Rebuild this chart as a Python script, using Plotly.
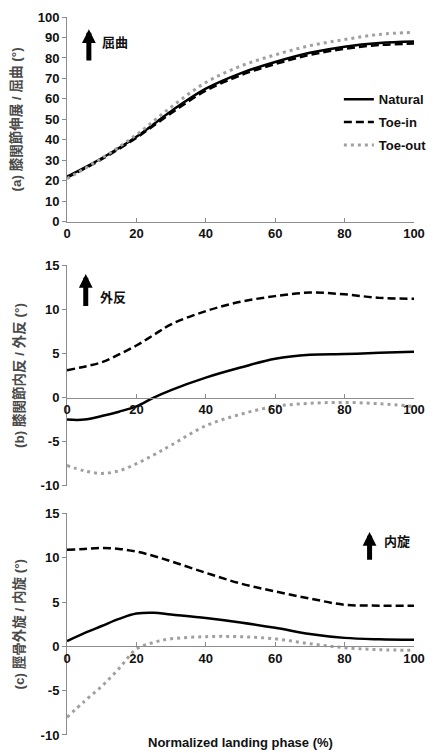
import plotly.graph_objects as go

# ---------------- data ----------------
phase_a = [0, 10, 20, 30, 40, 50, 60, 70, 80, 90, 100]
natural_a = [22, 31, 41.5, 54, 65, 72.5, 78, 82.5, 85.5, 87.3, 88]
toein_a = [21.5, 30.5, 41, 53, 64, 71.5, 77, 81.5, 84.5, 86.3, 87]
toeout_a = [21, 31, 42.5, 56, 68, 76, 81.5, 86, 89, 91.5, 92.5]

phase_bc = [0, 5, 10, 15, 20, 25, 30, 40, 50, 60, 70, 80, 90, 100]
natural_b = [-2.5, -2.5, -2.1, -1.6, -1.0, 0.0, 0.85, 2.26, 3.4, 4.4, 4.85, 4.93, 5.07, 5.2]
toein_b = [3.1, 3.5, 4.0, 4.9, 5.9, 7.1, 8.3, 9.8, 10.85, 11.5, 11.9, 11.7, 11.3, 11.2]
toeout_b = [-7.7, -8.3, -8.6, -8.3, -7.5, -6.5, -5.4, -3.2, -1.9, -1.0, -0.65, -0.55, -0.7, -1.0]

natural_c = [0.6, 1.5, 2.3, 3.1, 3.7, 3.8, 3.6, 3.2, 2.7, 2.1, 1.4, 0.96, 0.8, 0.74]
toein_c = [10.9, 11.0, 11.1, 11.0, 10.7, 10.2, 9.6, 8.3, 7.1, 6.2, 5.4, 4.7, 4.6, 4.6]
toeout_c = [-8.0, -6.2, -4.5, -2.5, -0.3, 0.45, 0.85, 1.1, 1.1, 0.85, 0.3, -0.15, -0.37, -0.45]

series_names = ["Natural", "Toe-in", "Toe-out"]
y_titles = ["(a) 膝関節伸展 / 屈曲 (°)", "(b) 膝関節内反 / 外反 (°)", "(c) 脛骨外旋 / 内旋 (°)"]
arrow_labels = ["屈曲", "外反", "内旋"]
x_title = "Normalized landing phase (%)"
x_ticks = [0, 20, 40, 60, 80, 100]
y_ticks_a = [0, 10, 20, 30, 40, 50, 60, 70, 80, 90, 100]
y_ticks_bc = [-10, -5, 0, 5, 10, 15]
y_ticktext_bc = ["-10", "-5", "0", "5", "10", "15"]

# ---------------- layout geometry ----------------
W, H = 442, 753
ML, MR, MT, MB = 67, 24, 10, 17
PH = H - MT - MB

def dom(top_px, bot_px):
    return [(H - MB - bot_px) / PH, (H - MB - top_px) / PH]

dom_a = dom(10, 217)
dom_b = dom(261, 484)
dom_c = dom(512, 736)
rng_a = [0, 100]
rng_bc = [-10, 15]

def zero_pos(d, r):
    return d[0] + (0 - r[0]) / (r[1] - r[0]) * (d[1] - d[0])

styles = [
    dict(color="#000000", width=2.5, dash="solid"),
    dict(color="#000000", width=2.5, dash="8px,4px"),
    dict(color="#a0a0a0", width=3, dash="3px,4px"),
]

TICKFONT = dict(family="Liberation Sans, Arial, sans-serif", size=13, color="#111111", weight="bold")
TITLEFONT = dict(family="Liberation Sans, Noto Sans CJK JP, sans-serif", size=13.5, color="#4a4a4a", weight="bold")
CJKFONT = dict(family="Noto Sans CJK JP, sans-serif", size=13, color="#111111", weight="bold")

fig = go.Figure()
panels = [
    ("x", "y", phase_a, [natural_a, toein_a, toeout_a]),
    ("x2", "y2", phase_bc, [natural_b, toein_b, toeout_b]),
    ("x3", "y3", phase_bc, [natural_c, toein_c, toeout_c]),
]
for pi, (xa, ya, xs, ys_list) in enumerate(panels):
    for si, ys in enumerate(ys_list):
        fig.add_trace(go.Scatter(
            x=xs, y=ys, mode="lines", name=series_names[si],
            line=dict(shape="spline", smoothing=1.0, **styles[si]),
            xaxis=xa, yaxis=ya, showlegend=(pi == 0),
            legendgroup=series_names[si],
        ))

xcommon = dict(range=[0, 100], tickvals=x_ticks, showline=True, linecolor="#8c8c8c", linewidth=1,
               ticks="inside", ticklen=4, tickcolor="#8c8c8c", showgrid=False, zeroline=False,
               tickfont=TICKFONT, domain=[0, 1])
ycommon = dict(showline=True, linecolor="#8c8c8c", linewidth=1, ticks="outside", ticklen=4,
               tickcolor="#8c8c8c", showgrid=False, zeroline=False, tickfont=TICKFONT)

fig.update_layout(
    width=W, height=H, margin=dict(l=ML, r=MR, t=MT, b=MB),
    paper_bgcolor="white", plot_bgcolor="white",
    xaxis=dict(anchor="y", **xcommon),
    xaxis2=dict(anchor="free", position=zero_pos(dom_b, rng_bc), **xcommon),
    xaxis3=dict(anchor="free", position=zero_pos(dom_c, rng_bc), **xcommon),
    yaxis=dict(domain=dom_a, range=rng_a, tickvals=y_ticks_a, anchor="x",
               title=dict(text=y_titles[0], font=TITLEFONT, standoff=12), **ycommon),
    yaxis2=dict(domain=dom_b, range=rng_bc, tickvals=y_ticks_bc, ticktext=y_ticktext_bc, anchor="x2",
                title=dict(text=y_titles[1], font=TITLEFONT, standoff=12), **ycommon),
    yaxis3=dict(domain=dom_c, range=rng_bc, tickvals=y_ticks_bc, ticktext=y_ticktext_bc, anchor="x3",
                title=dict(text=y_titles[2], font=TITLEFONT, standoff=12), **ycommon),
    legend=dict(x=(342 - ML) / (W - ML - MR), y=(H - MB - 78) / PH, xanchor="left", yanchor="top",
                bgcolor="rgba(0,0,0,0)", font=dict(family="Liberation Sans, Arial, sans-serif",
                size=13, color="#111111", weight="bold"), tracegroupgap=3, itemwidth=30),
    showlegend=True,
)

# direction arrows + labels
arrows = [
    ("x", "y", 6.3, 94, 78, 9.4, 88),
    ("x2", "y2", 5.4, 14.0, 10.2, 8.8, 11.4),
    ("x3", "y3", 87.2, 12.9, 9.6, 90.9, 12.0),
]
for i, (xa, ya, ax_, yh, yt, tx, ty) in enumerate(arrows):
    fig.add_annotation(x=ax_, y=yh, ax=ax_, ay=yt, xref=xa, yref=ya, axref=xa, ayref=ya,
                       text="", showarrow=True, arrowhead=2, arrowsize=0.55, arrowwidth=5,
                       arrowcolor="#000000", standoff=0, startstandoff=0)
    fig.add_annotation(x=tx, y=ty, xref=xa, yref=ya, text=arrow_labels[i], showarrow=False,
                       xanchor="left", yanchor="middle", font=CJKFONT)

fig.add_annotation(x=0.5, y=(H - MB - 744) / PH, xref="paper", yref="paper", text=x_title,
                   showarrow=False, xanchor="center", yanchor="middle",
                   font=dict(family="Liberation Sans, Arial, sans-serif", size=13, color="#111111", weight="bold"))

fig.write_html("out.html")
